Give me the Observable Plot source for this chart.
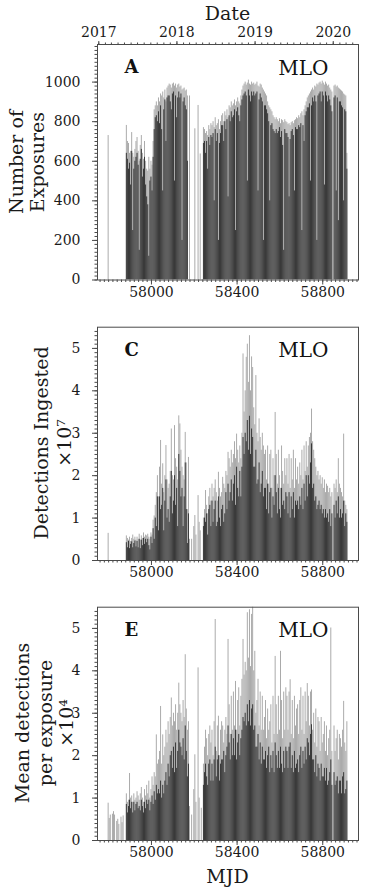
<!DOCTYPE html>
<html><head><meta charset="utf-8">
<script src="https://cdn.jsdelivr.net/npm/d3@7"></script>
<script src="https://cdn.jsdelivr.net/npm/@observablehq/plot@0.6"></script>
<style>
body{margin:0;background:#fff;}
#chart{position:relative;width:366px;height:891px;font-family:"DejaVu Serif",serif;color:#1a1a1a;overflow:hidden;}
#chart svg{position:absolute;left:0;}
.lbl{position:absolute;white-space:nowrap;line-height:1;}
</style></head><body><div id="chart"></div>
<script>
// 5-day bins starting at MJD 57795
const binStart = 57795, binDays = 5;

// Panel A: number of exposures (upper light envelope / dark body)
const expHi = [0,730,0,0,0,0,0,0,0,0,0,0,0,0,0,0,0,0,
781,700,690,640,650,745,640,620,660,700,
720,650,600,680,730,640,610,700,600,560,
550,620,560,600,580,700,860,880,900,880,
920,900,940,930,950,920,960,900,970,980,
990,985,970,990,995,980,990,970,985,990,
975,980,960,965,970,955,960,930,0,930,
0,0,0,0,764,0,0,882,0,637,
0,0,770,760,740,750,730,780,760,790,
780,800,770,820,780,790,810,760,800,830,
840,800,850,830,860,820,880,870,900,880,
890,910,880,900,920,900,890,930,960,980,
990,1000,985,995,1010,990,985,1000,990,995,
985,990,1000,980,975,990,985,970,960,950,
940,930,900,880,870,860,850,830,820,810,
820,810,800,815,790,810,805,795,810,800,
795,785,790,780,795,800,790,805,810,820,
815,830,820,840,850,830,860,880,900,920,
930,940,950,960,970,960,980,975,990,985,
995,1000,990,1005,995,985,1000,990,980,985,
970,960,950,0,980,985,975,980,970,965,
960,955,950,940,935,930,640];
const expLo = [0,0,0,0,0,0,0,0,0,0,0,0,0,0,0,0,0,0,
640,610,560,590,480,650,250,560,600,620,
640,580,150,610,660,520,560,620,480,420,
380,120,500,520,450,620,760,820,830,800,
850,790,880,760,450,860,910,700,920,930,
930,900,860,940,950,500,930,820,920,950,
920,940,200,900,920,880,860,600,0,0,
0,0,0,0,0,0,0,0,0,0,
0,0,690,700,640,700,560,720,680,730,
720,740,400,760,700,740,200,690,740,780,
780,700,800,760,810,420,830,800,850,820,
830,860,250,850,870,830,800,880,910,930,
940,950,930,500,960,930,900,950,930,950,
930,940,950,450,910,940,920,900,200,880,
880,860,840,800,400,780,790,760,750,740,
760,740,750,770,720,750,680,150,760,740,
740,720,420,710,750,760,730,450,770,760,
760,780,770,790,250,780,700,830,850,870,
870,890,500,880,920,900,930,900,200,930,
940,950,900,950,930,480,950,930,900,930,
910,880,850,0,920,930,450,920,300,900,
900,880,870,400,860,850,560];

// Panel C: detections ingested (x 10^7)
const detHi = [0,0.64,0,0,0,0,0,0,0,0,0,0,0,0,0,0,0,0,
0.58,0.52,0.48,0.55,0.45,0.52,0.60,0.50,0.55,0.48,
0.55,0.50,0.62,0.48,0.58,0.52,0.65,0.55,0.60,0.58,
0.62,0.55,0.50,0.65,0.60,0.95,1.05,1.30,1.60,2.00,
1.50,2.20,2.83,1.80,2.28,1.60,2.00,2.71,1.90,1.70,
1.80,2.10,3.10,2.00,1.90,3.18,2.40,2.20,1.90,3.41,
3.22,2.60,2.20,2.00,1.90,3.02,2.30,1.20,2.43,0.50,
0,0.50,0,0.80,1.06,0.60,0,1.53,0.90,0.70,
0,0,1.00,1.20,1.65,1.30,1.10,1.50,1.70,1.40,
1.80,1.50,1.70,1.90,1.60,1.40,2.08,1.70,1.50,1.60,
1.96,1.80,1.70,2.10,2.00,2.55,2.40,2.20,2.60,2.30,
2.50,2.80,2.40,2.98,2.60,2.30,2.70,2.40,3.00,4.87,
3.50,4.00,4.79,5.10,4.20,5.30,4.00,4.80,4.55,3.60,
3.20,4.36,3.00,2.80,3.34,2.90,2.60,3.00,2.70,2.50,
2.60,1.90,2.70,1.80,2.50,2.60,1.70,2.40,2.00,3.49,
2.50,1.80,2.60,2.00,1.70,2.70,2.10,1.80,2.40,2.00,
2.40,1.80,2.50,1.70,2.40,1.90,2.60,1.70,2.40,1.90,
2.20,1.80,2.30,2.00,2.60,1.90,2.70,2.10,2.80,2.20,
2.70,2.90,3.00,3.57,2.80,2.60,2.40,2.20,2.00,2.10,
1.90,2.00,1.80,1.95,1.70,1.90,1.60,1.80,1.75,1.60,
1.70,1.50,1.60,0,1.80,1.70,1.90,1.60,2.40,1.80,
1.70,1.60,1.50,2.98,1.40,1.30,1.20];
const detLo = [0,0,0,0,0,0,0,0,0,0,0,0,0,0,0,0,0,0,
0.42,0.30,0.45,0.28,0.38,0.44,0.30,0.40,0.46,0.32,
0.45,0.30,0.50,0.28,0.48,0.35,0.52,0.38,0.50,0.42,
0.50,0.35,0.25,0.55,0.40,0.75,0.50,1.00,0.80,1.50,
0.70,1.50,1.20,1.30,1.70,0.70,1.40,1.90,1.00,1.20,
0.90,1.50,2.10,1.10,1.40,2.00,1.30,1.70,0.80,2.50,
2.10,1.50,1.70,0.80,1.50,2.30,1.20,0.40,1.10,0,
0,0,0,0,0,0,0,0,0,0,
0,0,0.80,1.00,0.90,1.10,0.60,1.20,1.30,0.80,
1.40,0.90,1.20,1.40,0.80,0.90,1.50,1.00,0.80,1.20,
1.30,0.90,1.10,1.60,1.20,1.80,1.40,1.60,1.90,1.40,
1.80,2.00,1.30,2.20,1.70,1.50,2.10,1.50,2.20,2.90,
2.50,3.00,2.80,3.30,2.60,3.40,2.50,3.10,2.90,2.20,
2.20,2.60,1.80,1.90,2.30,1.60,1.80,2.10,1.50,1.70,
1.70,1.20,1.80,1.10,1.60,1.70,1.00,1.50,1.30,2.00,
1.60,1.10,1.70,1.20,1.00,1.70,1.30,1.40,1.20,1.60,
1.50,1.10,1.60,1.00,1.50,1.20,1.60,1.00,1.40,1.30,
1.40,1.20,1.50,1.30,1.70,1.20,1.80,1.40,2.00,1.50,
2.00,1.80,2.30,2.75,1.70,1.80,1.40,1.50,1.20,1.30,
1.40,1.20,1.30,1.10,1.20,1.00,1.20,1.00,1.10,0.90,
1.20,0.80,1.10,0,1.30,1.00,1.40,1.10,1.50,1.00,
1.20,1.00,1.10,1.40,0.80,1.10,0.90];

// Panel E: mean detections per exposure (x 10^4)
const meanHi = [0,0.88,0.52,0.60,0,0.62,0.68,0.60,0,0.45,0.50,0.38,0,0.55,0.42,0.58,0,0,
1.10,0.90,0.95,1.58,1.00,1.05,0.90,1.10,0.95,1.00,
1.15,1.05,0.95,1.10,1.25,1.00,0.90,1.20,1.05,1.30,
1.10,1.40,1.00,1.20,1.50,1.30,1.60,1.50,2.49,1.80,
1.90,2.10,3.16,1.80,2.49,2.00,2.20,2.60,2.30,2.80,
2.50,2.90,3.36,2.70,3.00,2.80,3.20,2.60,3.00,3.71,
3.20,3.00,2.80,3.30,2.90,4.38,3.10,2.60,2.80,0.80,
0,0.60,0,1.20,2.02,0.90,0,4.07,1.00,0,
0.76,0,1.80,2.20,2.60,2.40,2.00,2.50,2.70,2.30,
2.60,2.00,2.80,5.21,2.10,2.70,2.93,2.00,2.60,2.80,
2.70,2.30,2.60,2.90,2.50,4.74,3.20,2.50,3.40,2.60,
3.50,2.70,3.75,2.60,3.30,3.60,2.70,3.40,3.80,4.74,
3.90,4.20,4.00,5.37,4.30,5.44,4.10,5.33,5.60,4.00,
4.46,3.00,3.30,3.80,2.70,3.50,2.60,3.40,2.60,2.90,
3.30,2.40,3.10,2.60,2.80,3.20,2.30,3.40,2.50,4.34,
3.20,2.50,3.40,2.60,4.46,3.30,2.40,3.50,2.60,3.60,
3.40,2.60,3.50,3.79,2.50,3.30,2.40,3.40,2.70,3.10,
3.20,2.50,3.30,3.60,2.60,3.40,2.50,3.50,2.80,3.70,
3.40,2.70,3.50,3.55,2.60,3.00,2.30,3.10,2.20,2.90,
2.80,2.10,2.90,2.30,2.50,2.80,2.10,2.70,2.00,2.40,
2.60,5.01,2.10,0,2.70,2.10,2.40,2.60,1.90,2.50,
2.40,2.20,2.60,3.28,2.30,2.10,2.80];
const meanLo = [0,0,0,0,0,0,0,0,0,0,0,0,0,0,0,0,0,0,
0.85,0.65,0.80,0.95,0.75,0.90,0.65,0.90,0.70,0.85,
0.90,0.75,0.80,0.70,0.95,0.80,0.65,0.90,0.75,0.95,
0.85,0.95,0.70,0.90,1.05,0.85,1.15,0.95,1.30,1.10,
1.20,1.10,1.40,1.00,1.30,1.10,1.40,1.60,1.30,1.80,
1.50,2.00,2.10,1.70,2.20,1.60,2.30,1.70,2.10,2.60,
2.30,2.20,2.00,2.40,1.90,2.70,2.10,1.50,1.80,0,
0,0,0,0,0,0,0,0,0,0,
0,0,1.30,1.60,1.80,1.50,1.30,1.80,1.90,1.40,
1.80,1.40,1.90,2.20,1.50,1.90,2.00,1.40,1.80,1.90,
1.90,2.10,1.60,2.00,2.20,2.70,2.30,1.90,2.50,2.00,
2.40,2.00,2.60,1.90,2.30,2.50,2.00,2.40,2.60,2.90,
2.80,3.00,2.70,3.20,2.80,3.30,2.70,3.10,3.20,2.60,
2.70,2.20,2.20,2.50,1.90,2.30,1.80,2.20,1.90,1.90,
2.10,1.70,2.00,2.20,1.60,2.00,1.70,2.10,1.60,2.30,
2.00,1.70,2.10,1.70,2.20,1.80,1.60,2.10,1.70,2.20,
2.10,1.70,2.20,2.30,1.70,2.00,1.60,2.10,1.70,1.80,
1.90,1.60,2.00,2.20,1.70,2.10,1.80,2.20,1.90,2.40,
2.30,2.00,2.50,2.73,1.90,1.90,1.60,2.00,1.50,1.80,
1.70,1.40,1.80,1.50,1.50,1.70,1.40,1.70,1.30,1.40,
1.60,1.90,1.30,0,1.60,1.30,1.40,1.50,1.10,1.40,
1.40,1.10,1.50,1.60,1.10,1.20,1.40];

// Tick labels
const mjdTicks = [58000, 58400, 58800];
const yearLabels = ["2017", "2018", "2019", "2020"];
const expTicks = [0, 200, 400, 600, 800, 1000];
const ratioTicks = [0, 1, 2, 3, 4, 5];

const MJD_UNIX = 40587;
const toMJD = t => t / 864e5 + MJD_UNIX;
const xDomain = [57748, 58967];
const yearTicks = yearLabels.map(y => toMJD(Date.UTC(+y, 0, 1)));
const monthTicks = d3.utcMonths(new Date(Date.UTC(2016, 11, 1)), new Date(Date.UTC(2020, 5, 1)))
  .map(toMJD).filter(m => m >= xDomain[0] && m <= xDomain[1]);
const xMinor = d3.range(57760, 58961, 20);

const chart = document.getElementById("chart");
const ink = "#4a4a4a";

function rows(hi, lo) {
  return hi.map((h, i) => ({mjd: binStart + i * binDays, hi: h, lo: lo[i]}));
}

function panel({hi, lo, yDomain, yTicks, yMinor, top, height, mt, mb, letter, topAxis}) {
  const data = rows(hi, lo);
  const marks = [
    Plot.rectY(data, {x1: d => d.mjd - 2.2, x2: d => d.mjd + 2.2, y1: 0, y2: "hi", fill: "#a6a6a6", clip: true}),
    Plot.rectY(data, {x1: d => d.mjd - 2.2, x2: d => d.mjd + 2.2, y1: 0, y2: "lo", fill: "#333333", clip: true}),
    Plot.frame({stroke: ink, strokeWidth: 1}),
    Plot.axisY({ticks: yMinor, tickSize: 2.5, tickFormat: () => "", label: null, stroke: ink}),
    Plot.axisY({ticks: yTicks, tickSize: 5, tickPadding: 12, tickFormat: d => String(d), label: null, stroke: ink, fill: "#1a1a1a"}),
    Plot.axisX({ticks: xMinor, tickSize: 2.5, tickFormat: () => "", label: null, stroke: ink}),
    Plot.axisX({ticks: mjdTicks, tickSize: 5, tickPadding: 2, tickFormat: d3.format("d"), label: null, stroke: ink, fill: "#1a1a1a"}),
    Plot.text([letter], {frameAnchor: "top-left", dx: 27, dy: 16, text: d => d, fontWeight: "bold", fontSize: 18, fill: "#111"}),
    Plot.text(["MLO"], {frameAnchor: "top-right", dx: -30, dy: 16, text: d => d, fontSize: 20, fill: "#111"})
  ];
  if (topAxis) {
    marks.push(
      Plot.axisX({anchor: "top", ticks: monthTicks, tickSize: 2.5, tickFormat: () => "", label: null, stroke: ink}),
      Plot.axisX({anchor: "top", ticks: yearTicks, tickSize: 4, tickPadding: 4, label: null, stroke: ink, fill: "#1a1a1a",
        tickFormat: d => yearLabels[yearTicks.indexOf(d)]})
    );
  }
  const svg = Plot.plot({
    width: 366, height,
    marginLeft: 97, marginRight: 8, marginTop: mt, marginBottom: mb,
    x: {domain: xDomain},
    y: {domain: yDomain},
    style: {fontFamily: "DejaVu Serif", fontSize: "14px", background: "transparent", overflow: "visible"},
    marks
  });
  svg.style.top = top + "px";
  chart.appendChild(svg);
}

function label(text, x, y, size, rotate) {
  const d = document.createElement("div");
  d.className = "lbl";
  d.textContent = text;
  d.style.left = x + "px";
  d.style.top = y + "px";
  d.style.fontSize = size + "px";
  d.style.transform = "translate(-50%,-50%)" + (rotate ? " rotate(-90deg)" : "");
  chart.appendChild(d);
}

panel({hi: expHi, lo: expLo, yDomain: [0, 1190], yTicks: expTicks, yMinor: d3.range(0, 1181, 20),
  top: 0, height: 305, mt: 44, mb: 25.5, letter: "A", topAxis: true});
panel({hi: detHi, lo: detLo, yDomain: [0, 5.5], yTicks: ratioTicks, yMinor: d3.range(0, 5.45, 0.1),
  top: 305, height: 285, mt: 21.7, mb: 30, letter: "C"});
panel({hi: meanHi, lo: meanLo, yDomain: [0, 5.5], yTicks: ratioTicks, yMinor: d3.range(0, 5.45, 0.1),
  top: 590, height: 301, mt: 16.7, mb: 51, letter: "E"});

label("Date", 227.5, 12.5, 19);
label("Number of", 16, 162, 19, true);
label("Exposures", 37, 162, 19, true);
label("Detections Ingested", 41, 443, 19, true);
label("×10⁷", 64, 443, 19, true);
label("Mean detections", 22, 723, 19, true);
label("per exposure", 45, 723, 19, true);
label("×10⁴", 66, 723, 19, true);
label("MJD", 227.5, 876, 19);
</script></body></html>
